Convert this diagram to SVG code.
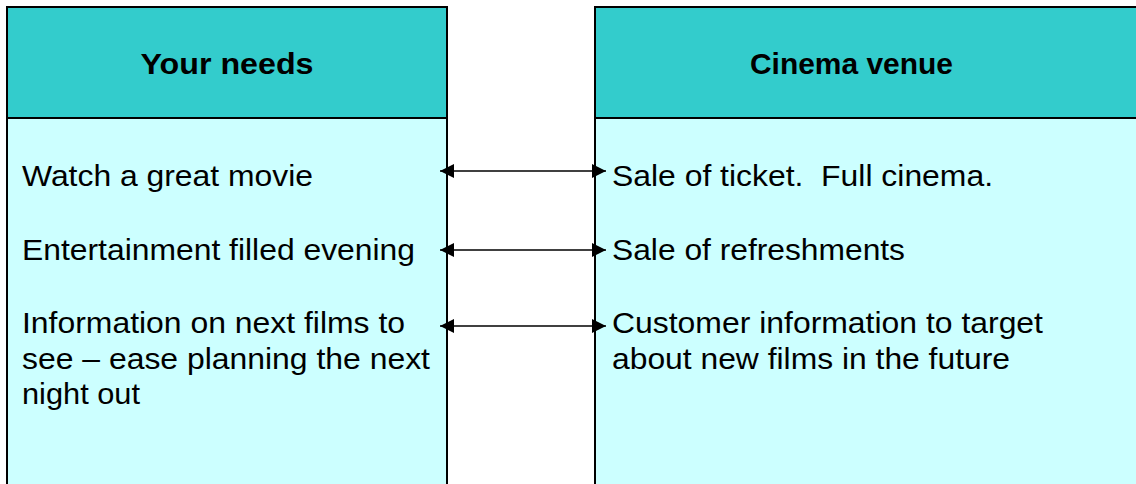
<svg xmlns="http://www.w3.org/2000/svg" width="1136" height="484" viewBox="0 0 1136 484">
<defs>
<style>
.hdr{fill:#33CCCC;stroke:#000;stroke-width:2}
.body{fill:#CCFFFF;stroke:#000;stroke-width:2}
.ht{font-family:"Liberation Sans",Arial,sans-serif;font-weight:bold;font-size:30px;fill:#000;text-anchor:middle}
.t{font-family:"Liberation Sans",Arial,sans-serif;font-size:30px;fill:#000;white-space:pre}
.conn{stroke:#000;stroke-width:1.6;fill:none;marker-start:url(#ah);marker-end:url(#ah)}
</style>
<marker id="ah" viewBox="0 0 14 14" refX="14" refY="7" markerWidth="14" markerHeight="14" markerUnits="userSpaceOnUse" orient="auto-start-reverse">
<path d="M0,0 L14,7 L0,14 z" fill="#000"/>
</marker>
</defs>
<rect width="1136" height="484" fill="#fff"/>
<g id="your-needs">
<rect class="body" x="7" y="118" width="440" height="380"/>
<rect class="hdr" x="7" y="7" width="440" height="111"/>
<text class="ht" x="227" y="74" textLength="173" lengthAdjust="spacingAndGlyphs">Your needs</text>
<text class="t" x="22" y="186" textLength="291" lengthAdjust="spacingAndGlyphs">Watch a great movie</text>
<text class="t" x="22" y="260" textLength="393" lengthAdjust="spacingAndGlyphs">Entertainment filled evening</text>
<text class="t" x="22" y="333" textLength="383" lengthAdjust="spacingAndGlyphs">Information on next films to</text>
<text class="t" x="22" y="368.5" textLength="408" lengthAdjust="spacingAndGlyphs">see – ease planning the next</text>
<text class="t" x="22" y="404" textLength="118" lengthAdjust="spacingAndGlyphs">night out</text>
</g>
<g id="cinema-venue">
<rect class="body" x="595" y="118" width="560" height="380"/>
<rect class="hdr" x="595" y="7" width="560" height="111"/>
<text class="ht" x="851.5" y="74" textLength="203" lengthAdjust="spacingAndGlyphs">Cinema venue</text>
<text class="t" x="612" y="186" textLength="381" lengthAdjust="spacingAndGlyphs" xml:space="preserve">Sale of ticket.  Full cinema.</text>
<text class="t" x="612" y="260" textLength="293" lengthAdjust="spacingAndGlyphs">Sale of refreshments</text>
<text class="t" x="612" y="333" textLength="431" lengthAdjust="spacingAndGlyphs">Customer information to target</text>
<text class="t" x="612" y="368.5" textLength="398" lengthAdjust="spacingAndGlyphs">about new films in the future</text>
</g>
<g id="connectors">
<line class="conn" x1="440" y1="171" x2="606" y2="171"/>
<line class="conn" x1="440" y1="250" x2="606" y2="250"/>
<line class="conn" x1="440" y1="326" x2="606" y2="326"/>
</g>
</svg>
